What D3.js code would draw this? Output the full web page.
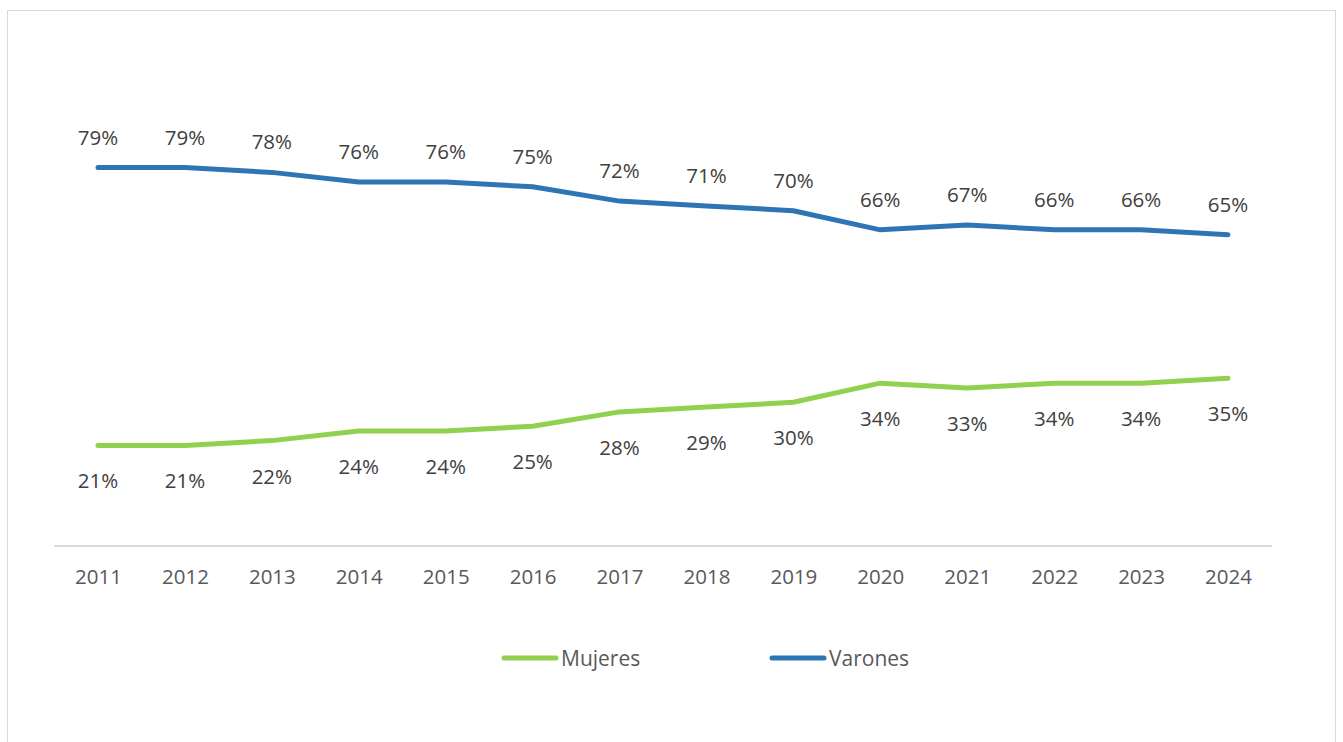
<!DOCTYPE html>
<html>
<head>
<meta charset="utf-8">
<script src="https://cdn.jsdelivr.net/npm/d3@7.9.0/dist/d3.min.js"></script>
<style>
  body { margin: 0; background: #fff; }
  svg { display: block; font-family: "Open Sans", sans-serif; }
</style>
</head>
<body>
<div id="chart"></div>
<script>
// Chart values
const years = ['2011', '2012', '2013', '2014', '2015', '2016', '2017', '2018', '2019', '2020', '2021', '2022', '2023', '2024'];
const mujeres = [21, 21, 22, 24, 24, 25, 28, 29, 30, 34, 33, 34, 34, 35];
const varones = [79, 79, 78, 76, 76, 75, 72, 71, 70, 66, 67, 66, 66, 65];

const width = 1343;
const height = 742;

const svg = d3.select('#chart')
  .append('svg')
  .attr('width', width)
  .attr('height', height);

// outer frame
svg.append('rect')
  .attr('x', 7.5)
  .attr('y', 10.5)
  .attr('width', 1328)
  .attr('height', 740)
  .attr('fill', 'none')
  .attr('stroke', '#d9d9d9');

const xScale = d3.scalePoint()
  .domain(years)
  .range([98, 1228]);

const yScale = d3.scaleLinear()
  .domain([0, 100])
  .range([546, 67]);

// x axis
const xAxis = svg.append('g')
  .attr('transform', `translate(0, ${yScale(0)})`)
  .call(d3.axisBottom(xScale).tickSize(0).tickPadding(23));
xAxis.select('.domain')
  .attr('d', `M54,0H1272`)
  .attr('stroke', '#d9d9d9')
  .attr('stroke-width', 2);
xAxis.selectAll('text')
  .attr('font-family', '"Open Sans", sans-serif')
  .attr('font-size', 20.5)
  .attr('fill', '#595959');

const series = [
  { name: 'Mujeres', values: mujeres, color: '#92d050', dy: 35 },
  { name: 'Varones', values: varones, color: '#2e75b6', dy: -31 }
];

const line = d3.line()
  .x((d, i) => xScale(years[i]))
  .y(d => yScale(d));

series.forEach(s => {
  svg.append('path')
    .datum(s.values)
    .attr('d', line)
    .attr('fill', 'none')
    .attr('stroke', s.color)
    .attr('stroke-width', 5)
    .attr('stroke-linecap', 'round')
    .attr('stroke-linejoin', 'round');

  svg.append('g')
    .selectAll('text')
    .data(s.values)
    .join('text')
    .attr('x', (d, i) => xScale(years[i]))
    .attr('y', d => yScale(d) + s.dy)
    .attr('text-anchor', 'middle')
    .attr('dominant-baseline', 'central')
    .attr('font-size', 20.5)
    .attr('fill', '#404040')
    .text(d => d + '%');
});

// legend
const legend = svg.append('g')
  .selectAll('g')
  .data(series)
  .join('g')
  .attr('transform', (d, i) => `translate(${[504, 772][i]}, 658)`);

legend.append('line')
  .attr('x1', 0)
  .attr('x2', 52)
  .attr('stroke', d => d.color)
  .attr('stroke-width', 5)
  .attr('stroke-linecap', 'round');

legend.append('text')
  .attr('x', 57)
  .attr('dominant-baseline', 'central')
  .attr('font-size', 21)
  .attr('fill', '#595959')
  .text(d => d.name);
</script>
</body>
</html>
